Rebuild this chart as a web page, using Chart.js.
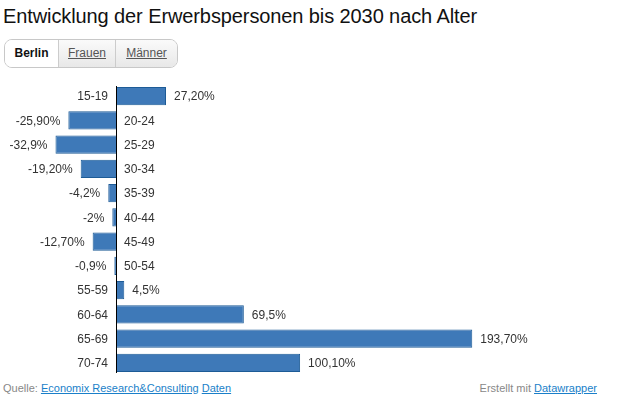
<!DOCTYPE html>
<html>
<head>
<meta charset="utf-8">
<script src="https://cdn.jsdelivr.net/npm/chart.js@4/dist/chart.umd.min.js"></script>
<style>
	body { margin: 0; width: 642px; height: 402px; overflow: hidden; background: #fff; font-family: "Liberation Sans", Arial, sans-serif; position: relative; }
	h1 { position: absolute; left: 3px; top: 5px; margin: 0; font-size: 20px; font-weight: normal; color: #111; letter-spacing: -0.1px; }
	.btns { position: absolute; left: 4px; top: 39px; height: 27px; border: 1px solid #c8c8c8; border-radius: 8px; overflow: hidden; display: flex; }
	.btns span { display: block; height: 27px; line-height: 27px; font-size: 12px; text-align: center; }
	.btns .on { width: 53px; background: #fff; font-weight: bold; color: #111; }
	.btns .off { background: linear-gradient(#fafafa, #e8e8e8); color: #555; text-decoration: underline; border-left: 1px solid #ccc; }
	#wrap { position: absolute; left: 0; top: 84px; width: 642px; height: 291px; }
	.foot { position: absolute; top: 382px; font-size: 11px; color: #888; }
	.foot a { color: #1a7fc9; text-decoration: underline; }
</style>
</head>
<body>
<h1>Entwicklung der Erwerbspersonen bis 2030 nach Alter</h1>
<div class="btns">
	<span class="on">Berlin</span>
	<span class="off" style="width:56px">Frauen</span>
	<span class="off" style="width:61px">Männer</span>
</div>
<div id="wrap"><canvas id="myChart"></canvas></div>
<div class="foot" style="left:3px">Quelle: <a>Economix Research&amp;Consulting</a> <a>Daten</a></div>
<div class="foot" style="right:45px">Erstellt mit <a>Datawrapper</a></div>
<script>
	const labels = ['15-19', '20-24', '25-29', '30-34', '35-39', '40-44', '45-49', '50-54', '55-59', '60-64', '65-69', '70-74'];
	const values = [27.2, -25.9, -32.9, -19.2, -4.2, -2, -12.7, -0.9, 4.5, 69.5, 193.7, 100.1];
	const valueLabels = ['27,20%', '-25,90%', '-32,9%', '-19,20%', '-4,2%', '-2%', '-12,70%', '-0,9%', '4,5%', '69,5%', '193,70%', '100,10%'];

	// zero line + category and value labels
	const labelPlugin = {
		id: 'labelPlugin',
		afterDatasetsDraw: function (chart) {
			const ctx = chart.ctx;
			const x0 = chart.scales.x.getPixelForValue(0);
			const bars = chart.getDatasetMeta(0).data;
			ctx.save();
			ctx.font = '12px "Liberation Sans", Arial, sans-serif';
			ctx.fillStyle = '#333';
			ctx.textBaseline = 'middle';
			bars.forEach(function (bar, i) {
				const v = values[i];
				if (v >= 0) {
					ctx.textAlign = 'right';
					ctx.fillText(labels[i], x0 - 8, bar.y + 1);
					ctx.textAlign = 'left';
					ctx.fillText(valueLabels[i], bar.x + 8, bar.y + 1);
				} else {
					ctx.textAlign = 'left';
					ctx.fillText(labels[i], x0 + 8, bar.y + 1);
					ctx.textAlign = 'right';
					ctx.fillText(valueLabels[i], bar.x - 8, bar.y + 1);
				}
			});
			const top = bars[0].y - bars[0].height / 2 - 1;
			const last = bars[bars.length - 1];
			const bottom = last.y + last.height / 2 + 1;
			ctx.strokeStyle = '#000';
			ctx.lineWidth = 1;
			ctx.beginPath();
			ctx.moveTo(Math.round(x0) + 0.5, top);
			ctx.lineTo(Math.round(x0) + 0.5, bottom);
			ctx.stroke();
			ctx.restore();
		}
	};

	const config = {
		type: 'bar',
		data: {
			labels: labels,
			datasets: [{
				data: values,
				backgroundColor: '#3e79b8',
				borderColor: '#1d5b96',
				borderWidth: 1,
				barPercentage: 0.75,
				categoryPercentage: 1
			}]
		},
		options: {
			indexAxis: 'y',
			responsive: true,
			maintainAspectRatio: false,
			animation: false,
			layout: { padding: { left: 13, right: 11, top: 0, bottom: 0 } },
			plugins: {
				legend: { display: false },
				tooltip: { enabled: false }
			},
			scales: {
				x: { display: false, min: -56, max: 280 },
				y: { display: false }
			}
		},
		plugins: [labelPlugin]
	};
	const myChart = new Chart(document.getElementById('myChart'), config);
</script>
</body>
</html>
